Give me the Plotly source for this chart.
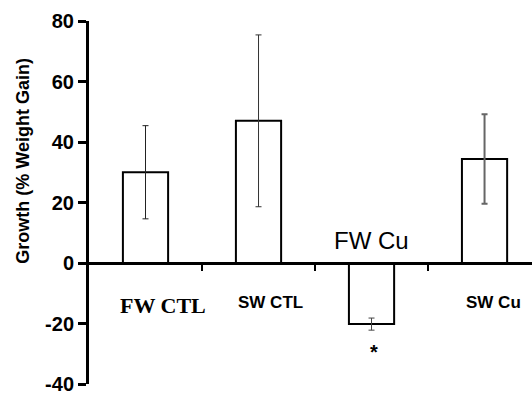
import plotly.graph_objects as go

categories = ["FW CTL", "SW CTL", "FW Cu", "SW Cu"]
growth = [30.0, 47.0, -20.2, 34.4]
err = [15.4, 28.4, 2.0, 14.8]
y_ticks = [-40, -20, 0, 20, 40, 60, 80]
y_tick_labels = ["-40", "-20", "0", "20", "40", "60", "80"]

label_texts = ["FW CTL", "SW CTL", "FW Cu", "SW Cu"]
label_x = [0.155, 1.11, 2.0, 3.08]
label_y = [-14.0, -13.0, 7.3, -13.0]
label_fonts = [
    dict(family="Liberation Serif", size=22, color="black", weight="bold"),
    dict(family="Liberation Sans", size=17, color="black", weight="bold"),
    dict(family="Liberation Sans", size=24, color="black"),
    dict(family="Liberation Sans", size=17, color="black", weight="bold"),
]
err_colors = ["#222222", "#333333", "#444444", "#666666"]
err_thick = [1, 1, 1, 2]

fig = go.Figure()
for i, cat in enumerate(categories):
    fig.add_trace(go.Bar(
        x=[i], y=[growth[i]],
        width=0.4,
        marker=dict(color="white", line=dict(color="black", width=2)),
        error_y=dict(type="data", array=[err[i]], visible=True,
                     color=err_colors[i], thickness=err_thick[i], width=3),
        showlegend=False,
    ))

W, H = 532, 395
ml, mr, mt, mb = 89, 0, 21, 9
pw, ph = W - ml - mr, H - mt - mb

annotations = []
for t, x, y, f in zip(label_texts, label_x, label_y, label_fonts):
    annotations.append(dict(text=t, x=x, y=y, xref="x", yref="y",
                            showarrow=False, font=f, xanchor="center", yanchor="middle"))
annotations.append(dict(text="<b>*</b>", x=2.02, y=-29.5, xref="x", yref="y", showarrow=False,
                        font=dict(family="Liberation Sans", size=20, color="black")))
annotations.append(dict(text="<b>Growth (% Weight Gain)</b>", textangle=-90,
                        x=(23 - ml) / pw, y=(H - mb - 161.5) / ph,
                        xref="paper", yref="paper", showarrow=False,
                        xanchor="center", yanchor="middle",
                        font=dict(family="Liberation Sans", size=18, color="black")))

ymin, ymax = -40, 80
fig.update_layout(
    width=W, height=H,
    margin=dict(l=ml, r=mr, t=mt, b=mb, pad=0),
    paper_bgcolor="white", plot_bgcolor="white",
    barmode="overlay",
    xaxis=dict(range=[-0.5, 3.42], anchor="free", position=(0 - ymin) / (ymax - ymin),
               showline=True, linecolor="black", linewidth=2.5,
               tickvals=[0.5, 1.5, 2.5], ticks="outside", ticklen=6, tickwidth=2,
               tickcolor="black", showticklabels=False, showgrid=False, zeroline=False),
    yaxis=dict(range=[ymin, ymax], tickvals=y_ticks, ticktext=y_tick_labels,
               showline=True, linecolor="black", ticklabeloverflow="allow",
               linewidth=3, ticks="outside", ticklen=8, tickwidth=3, tickcolor="black",
               showgrid=False, zeroline=False,
               tickfont=dict(family="Liberation Sans", size=20, color="black", weight="bold")),
    annotations=annotations,
)
fig.write_html("out.html")
